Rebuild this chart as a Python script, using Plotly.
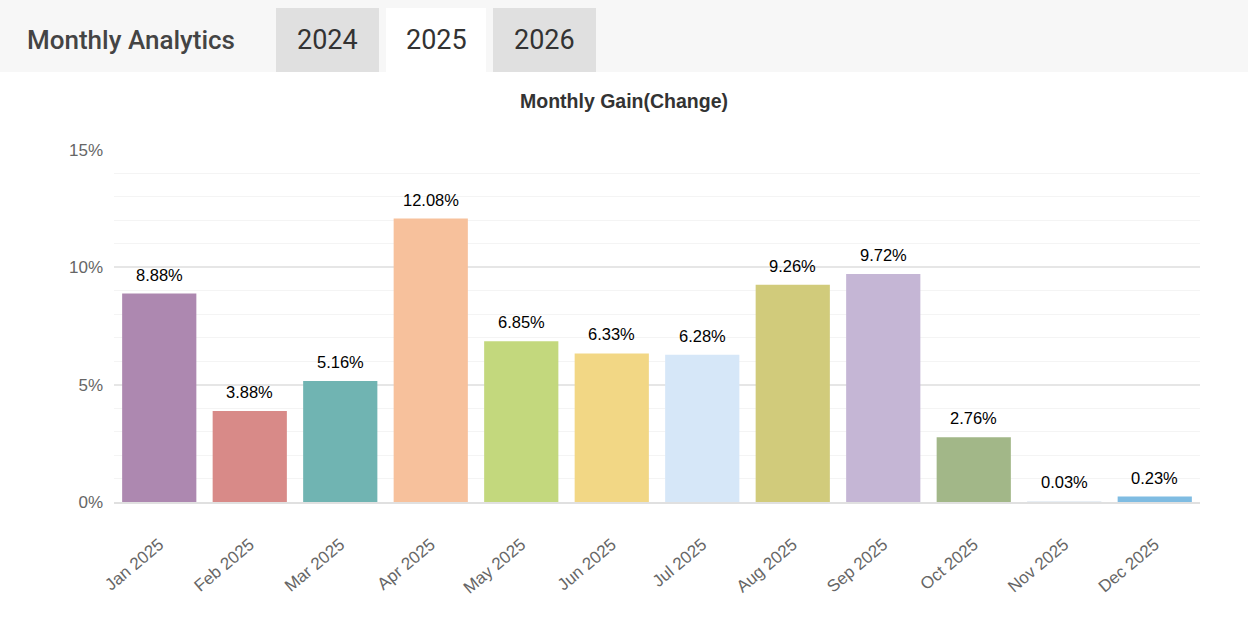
import plotly.graph_objects as go

months = ["Jan 2025", "Feb 2025", "Mar 2025", "Apr 2025", "May 2025", "Jun 2025",
          "Jul 2025", "Aug 2025", "Sep 2025", "Oct 2025", "Nov 2025", "Dec 2025"]
gains = [8.88, 3.88, 5.16, 12.08, 6.85, 6.33, 6.28, 9.26, 9.72, 2.76, 0.03, 0.23]
colors = ["#ad88b0", "#d88a88", "#70b4b2", "#f7c19c", "#c3d87d", "#f2d785",
          "#d6e7f8", "#d1cb7b", "#c5b6d5", "#a2b788", "#e8eef4", "#7fbce2"]
y_ticks = [0, 5, 10, 15]
y_tick_labels = ["0%", "5%", "10%", "15%"]
tabs = ["2024", "2025", "2026"]

W, H = 1248, 628
L, R, T, B = 114, 48, 150, 126
PW, PH = W - L - R, H - T - B

def px(x):
    return (x - L) / PW

def py(y):
    return (H - B - y) / PH

font_main = "Liberation Sans, Arial, sans-serif"

fig = go.Figure(go.Bar(
    x=months, y=gains,
    marker=dict(color=colors, line=dict(width=0)),
    width=0.82,
    hoverinfo="skip",
))

shapes = [
    dict(type="rect", xref="paper", yref="paper", x0=px(0), x1=px(W), y0=py(0), y1=py(72),
         fillcolor="#f7f7f7", line=dict(width=0), layer="below"),
]
tab_boxes = [(276, 379, "#e0e0e0"), (386, 486, "#ffffff"), (493, 596, "#e0e0e0")]
annotations = [
    dict(text="Monthly Analytics", xref="paper", yref="paper", x=px(25), y=py(40),
         xanchor="left", yanchor="middle", showarrow=False,
         font=dict(family="Roboto", size=26, color="#444444", weight=500)),
]
for (x0, x1, c), label in zip(tab_boxes, tabs):
    shapes.append(dict(type="rect", xref="paper", yref="paper", x0=px(x0), x1=px(x1),
                       y0=py(8), y1=py(72), fillcolor=c, line=dict(width=0), layer="below"))
    annotations.append(dict(text=label, xref="paper", yref="paper", x=px((x0 + x1) / 2), y=py(40),
                            xanchor="center", yanchor="middle", showarrow=False,
                            font=dict(family="Roboto", size=27, color="#333333")))

for m, g in zip(months, gains):
    annotations.append(dict(text=f"{g:.2f}%", x=m, y=g, xref="x", yref="y",
                            xanchor="center", yanchor="bottom", yshift=8, showarrow=False,
                            font=dict(family=font_main, size=16.5, color="#000000")))

fig.update_layout(
    width=W, height=H,
    margin=dict(l=L, r=R, t=T, b=B),
    paper_bgcolor="#ffffff", plot_bgcolor="#ffffff",
    showlegend=False,
    title=dict(text="<b>Monthly Gain(Change)</b>", x=0.5, xanchor="center",
               y=1 - 101 / H, yanchor="middle",
               font=dict(family=font_main, size=19.5, color="#333333")),
    shapes=shapes,
    annotations=annotations,
)
fig.update_yaxes(
    range=[0, 15], tickvals=y_ticks, ticktext=y_tick_labels,
    showgrid=True, gridcolor="#e6e6e6", gridwidth=1.5,
    minor=dict(dtick=1, showgrid=True, gridcolor="#f4f4f4", gridwidth=1),
    zeroline=False, showline=False,
    tickfont=dict(family=font_main, size=17, color="#666666"),
    ticks="", ticklabelstandoff=10,
)
fig.update_xaxes(
    tickangle=-40, showgrid=False,
    showline=True, linecolor="#e0e0e0", linewidth=2,
    tickfont=dict(family=font_main, size=17, color="#666666"),
    ticks="", ticklabelstandoff=24,
)

fig.write_html("out.html", config={"displayModeBar": False},
               post_script="document.body.style.margin='0';")
